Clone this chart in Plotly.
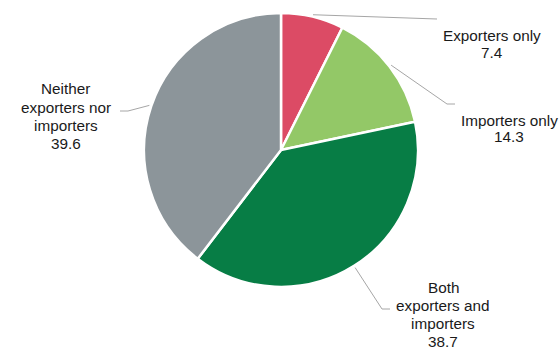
import math
import plotly.graph_objects as go

# ---- data ----
categories = ["Exporters only", "Importers only",
              "Both exporters and importers", "Neither exporters nor importers"]
label_lines = [["Exporters only"], ["Importers only"],
               ["Both", "exporters and", "importers"],
               ["Neither", "exporters nor", "importers"]]
values = [7.4, 14.3, 38.7, 39.6]
colors = ["#DC4B65", "#93C867", "#077D45", "#8C959A"]

# ---- layout constants (pixels in the page) ----
W, H = 560, 347
cx, cy, R = 281, 150, 137
# elbow point, end point, text first-line centre, line spacing for each slice
elbows = [(437, 19), (447, 104), (382, 309), (128, 111)]
ends = [(437, 19), (455, 104), (390, 309), (120, 111)]
text_x = [491.5, 509, 443, 65.5]
text_y0 = [35.5, 120.5, 287, 88.7]
text_dy = [16.8, 16.3, 18.2, 18.3]

def px(x):
    return x / W

def py(y):
    return 1 - y / H

fig = go.Figure(go.Pie(
    labels=categories, values=values, sort=False, direction="clockwise", rotation=0,
    marker=dict(colors=colors, line=dict(color="white", width=2.5)),
    textinfo="none", hoverinfo="label+value", showlegend=False,
    domain=dict(x=[px(cx - R), px(cx + R)], y=[py(cy + R), py(cy - R)]),
))

total = sum(values)
cum = 0.0
shapes, annotations = [], []
font = dict(family="Liberation Sans, Arial, sans-serif", size=15.3, color="#1A1A1A")
for i, v in enumerate(values):
    mid = (cum + v / 2) / total * 2 * math.pi
    cum += v
    r0 = R + 2
    sx, sy = cx + r0 * math.sin(mid), cy - r0 * math.cos(mid)
    ex, ey = elbows[i]
    fx, fy = ends[i]
    shapes.append(dict(
        type="path", xref="paper", yref="paper",
        path=f"M {px(sx)},{py(sy)} L {px(ex)},{py(ey)} L {px(fx)},{py(fy)}",
        line=dict(color="#A6A6A6", width=1),
    ))
    lines = label_lines[i] + [f"{v:.1f}"]
    for k, t in enumerate(lines):
        annotations.append(dict(
            x=px(text_x[i]), y=py(text_y0[i] + k * text_dy[i]),
            xref="paper", yref="paper", showarrow=False,
            text=t, align="center", xanchor="center", yanchor="middle", font=font,
        ))

fig.update_layout(
    width=W, height=H, margin=dict(l=0, r=0, t=0, b=0),
    paper_bgcolor="white", plot_bgcolor="white",
    shapes=shapes, annotations=annotations,
)

fig.write_html("out.html", config={"displayModeBar": False},
               post_script="document.body.style.margin='0px';")
